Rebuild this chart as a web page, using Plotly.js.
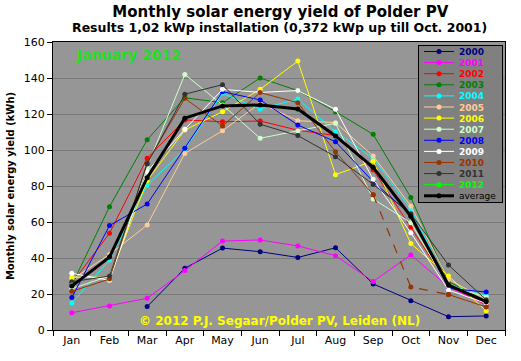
<!DOCTYPE html>
<html>
<head>
<meta charset="utf-8">
<script src="https://cdn.plot.ly/plotly-3.0.1.min.js"></script>
<style>html,body{margin:0;padding:0;background:#fff}#chart{width:521px;height:361px}</style>
</head>
<body>
<div id="chart"></div>
<script>
// ---- data (kWh per month) ----
const months = ['Jan','Feb','Mar','Apr','May','Jun','Jul','Aug','Sep','Oct','Nov','Dec'];
const yTicks = [0,20,40,60,80,100,120,140,160];
const y2000 = [null,null,13,34.3,45.5,43.5,40.3,45.7,25.6,16.3,7.4,7.8];
const y2001 = [9.6,13.4,17.6,33,49.4,50,46.7,41.3,27,41.7,24,14];
const y2002 = [26,53.7,95.4,116.7,115.7,116.1,111,108,89,57.2,25,14];
const y2003 = [25,68.5,105.7,129,126.3,140,133,121.3,108.7,73.6,27,16];
const y2004 = [15,38.9,80.5,100.4,131.5,122.8,128.3,110.2,95.4,67,25,19];
const y2005 = [28,42,58.3,98.1,110.7,126,116.3,115.2,96.7,68.9,28,17];
const y2006 = [29.3,29.3,83,111.1,121.3,133.7,149.4,86.3,93.9,48,30,10.6];
const y2007 = [23,30,90.7,142,125,106.5,110.7,114.8,72.8,59.6,24,18.5];
const y2008 = [18,58,70,101,132.4,127.8,113.9,104.6,82.4,64,23.1,21.1];
const y2009 = [31.5,27.6,88,111.5,133.7,132,133,122.6,83.7,54,22.2,14.8];
const y2010 = [21.5,28.3,93,128.7,113.3,131.9,126.3,99,75.2,23.9,19.7,12.8];
const y2011 = [26.8,30,92.2,131,136.3,114.3,108,96.3,80.9,64.6,36.1,16.8];
const y2012 = [25,null,null,null,null,null,null,null,null,null,null,null];
const yAvg  = [24.4,40.5,84.6,117.7,124.5,125,122.8,107.8,90.4,63.2,25,15.7];
const seriesNames = ['2000','2001','2002','2003','2004','2005','2006','2007','2008','2009','2010','2011','2012','average'];
const seriesData  = [y2000,y2001,y2002,y2003,y2004,y2005,y2006,y2007,y2008,y2009,y2010,y2011,y2012,yAvg];

// ---- styles ----
const seriesColors = ['#000080','#ff00ff','#ff0000','#008000','#00ffff','#ffcc99','#ffff00',
                      '#ccffcc','#0000ff','#ffffff','#993300','#333333','#00ff00','#000000'];
const FONT = 'DejaVu Sans, Verdana, sans-serif';

const traces = [];
seriesData.forEach((vals, k) => {
  const name = seriesNames[k];
  const col = seriesColors[k];
  const isAvg = name === 'average';
  const label = isAvg ? '<span style="color:#000">average</span>'
                      : '<b><span style="color:' + col + '">' + name + '</span></b>';
  const base = {
    type: 'scatter', mode: 'lines+markers', x: months,
    line: {color: col, width: isAvg ? 3 : 1},
    marker: {color: col, size: 5, symbol: 'circle'},
    hoverinfo: 'skip'
  };
  if (name === '2010') {
    // solid Jan-Sep, dashed Sep-Nov, solid Nov-Dec
    traces.push(Object.assign({}, base, {name: label, y: vals.map((v,i) => i <= 8 ? v : null)}));
    traces.push(Object.assign({}, base, {name: label, showlegend: false,
      y: vals.map((v,i) => (i >= 8 && i <= 10) ? v : null),
      line: {color: col, width: 1.2, dash: 'dash'}}));
    traces.push(Object.assign({}, base, {name: label, showlegend: false,
      y: vals.map((v,i) => i >= 10 ? v : null)}));
  } else {
    traces.push(Object.assign({}, base, {name: label, y: vals}));
  }
});

const layout = {
  width: 521, height: 361,
  margin: {l: 53, r: 16, t: 42, b: 31, pad: 0},
  paper_bgcolor: '#ffffff',
  plot_bgcolor: '#969696',
  showlegend: true,
  title: {
    text: '<b>Monthly solar energy yield of Polder PV</b>',
    font: {family: FONT, size: 15, color: '#000'},
    x: 0.538, xanchor: 'center', xref: 'container',
    y: 1 - 12/361, yanchor: 'middle', yref: 'container'
  },
  xaxis: {
    type: 'category', range: [-0.5, 11.5],
    tickson: 'boundaries', ticks: 'outside', ticklen: 5, tickcolor: '#000', tickwidth: 1,
    showgrid: false, zeroline: false,
    showline: true, linecolor: '#000', linewidth: 1, mirror: true,
    tickfont: {family: FONT, size: 11, color: '#000'}
  },
  yaxis: {
    range: [0, 160], tickvals: yTicks, ticktext: yTicks.map(String),
    ticks: 'outside', ticklen: 5, tickcolor: '#000', tickwidth: 1,
    showgrid: true, gridcolor: '#7a7a7a', gridwidth: 1, zeroline: false,
    showline: true, linecolor: '#000', linewidth: 1, mirror: true,
    tickfont: {family: FONT, size: 11, color: '#000'},
    title: {text: '<b>Monthly solar energy yield (kWh)</b>', font: {family: FONT, size: 10, color: '#000'}, standoff: 7}
  },
  legend: {
    x: 0.9956, xanchor: 'right', y: 0.9896, yanchor: 'top',
    bgcolor: '#808080', bordercolor: '#000', borderwidth: 1,
    font: {family: FONT, size: 9, color: '#000'},
    itemwidth: 30, tracegroupgap: 0
  },
  annotations: [
    {text: '<b>Results 1,02 kWp installation (0,372 kWp up till Oct. 2001)</b>',
     xref: 'paper', yref: 'paper', x: 0.5, y: (330-28)/288, xanchor: 'center', yanchor: 'middle',
     showarrow: false, font: {family: FONT, size: 12.5, color: '#000'}},
    {text: '<b>January 2012</b>',
     xref: 'paper', yref: 'paper', x: (74-53)/452, y: (330-55)/288, xanchor: 'left', yanchor: 'middle',
     showarrow: false, font: {family: FONT, size: 14, color: '#1ee01e'}},
    {text: '<b>© 2012 P.J. Segaar/Polder PV, Leiden (NL)</b>',
     xref: 'paper', yref: 'paper', x: 0.5, y: (330-321)/288, xanchor: 'center', yanchor: 'middle',
     showarrow: false, font: {family: FONT, size: 12, color: '#ffff00'}}
  ]
};

Plotly.newPlot('chart', traces, layout, {staticPlot: true, displayModeBar: false}).then(gd => {
  // compact legend rows like the original chart
  const items = gd.querySelectorAll('.legend .traces');
  const step = 11.1, first = 6.5;
  items.forEach((g, i) => {
    const m = /translate\(([^,\s]+)[,\s]+([^)]+)\)/.exec(g.getAttribute('transform') || '');
    const x = m ? m[1] : 1;
    g.setAttribute('transform', 'translate(' + x + ',' + (first + i * step) + ')');
  });
  const bg = gd.querySelector('.legend rect.bg');
  if (bg) bg.setAttribute('height', (first * 2 + (items.length - 1) * step).toFixed(1));
});
</script>
</body>
</html>
